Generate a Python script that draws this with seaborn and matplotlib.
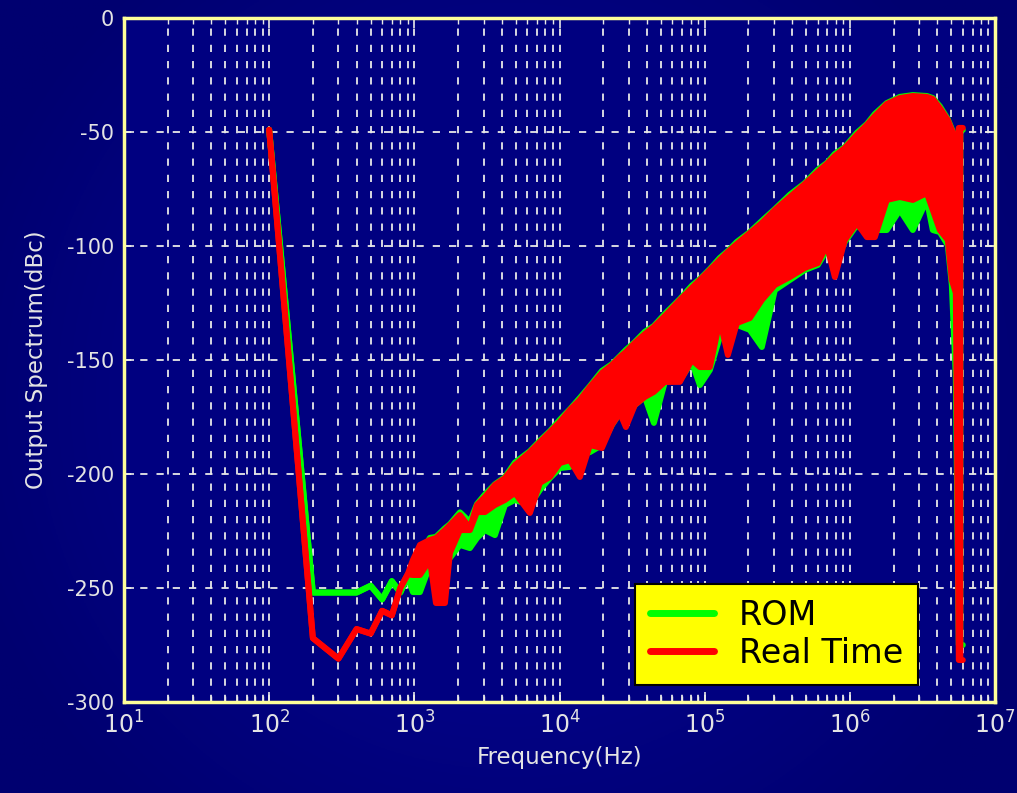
import numpy as np
import pandas as pd
import matplotlib
matplotlib.use("Agg")
import matplotlib.pyplot as plt
import matplotlib.ticker as mticker
from matplotlib.lines import Line2D
import seaborn as sns

# ---------------- data ----------------
freq_hz = [100, 200, 300, 400, 500, 600, 700, 800, 900,
           978, 1093, 1281, 1409, 1625, 1759, 2061, 2415, 2699, 3064, 3591,
           4207, 4929, 6253, 7328, 8589, 10060, 11790, 13820, 16200, 19590,
           22960, 26060, 28660, 33060, 38740, 44680, 53190, 67480, 81620, 92660,
           108600, 127300, 144500, 166700, 204800, 247700, 304500, 386200, 489900, 602000,
           694400, 788300, 923900, 1.117e6, 1.310e6, 1.487e6, 1.798e6, 2.210e6, 2.716e6, 3.391e6,
           3.728e6, 4.167e6, 4.730e6, 5.041e6, 5.370e6, 5.632e6, 6.002e6]

real_time_upper = [-49, -272, -281, -268, -270, -260, -262, -250, -244,
                   -237.7, -231.1, -228.9, -228.1, -224.6, -222.4, -218.0, -223.7, -213.6, -210.1, -204.8,
                   -201.8, -196.1, -190.4, -186.0, -181.6, -177.2, -171.9, -167.5, -161.8, -155.7,
                   -152.2, -148.7, -146.5, -142.5, -138.6, -135.5, -130.7, -123.7, -118.4, -114.9,
                   -110.5, -106.1, -102.6, -99.1, -94.3, -89.9, -84.2, -78.5, -72.8, -67.5,
                   -64.0, -60.5, -57.0, -51.3, -46.9, -43.0, -37.7, -35.1, -34.2, -34.6,
                   -35.5, -39.5, -44.7, -49.1, -57.0, -48.2, -48.2]
real_time_lower = [-49, -272, -281, -268, -270, -260, -262, -250, -244,
                   -244.3, -244.3, -237.7, -256.6, -256.6, -234.6, -224.6, -224.6, -216.7, -216.7, -213.6,
                   -211.4, -208.3, -217.1, -203.9, -201.3, -195.2, -193.9, -201.3, -187.3, -188.6,
                   -178.5, -173.2, -179.4, -169.7, -166.2, -164.0, -159.6, -159.6, -150.0, -153.1,
                   -153.1, -132.5, -147.8, -133.8, -131.6, -123.7, -117.1, -113.6, -109.6, -107.5,
                   -99.6, -113.6, -97.4, -89.9, -96.1, -96.1, -79.8, -78.5, -79.8, -76.8,
                   -84.2, -93.0, -97.4, -114.9, -120.6, -281.6, -281.6]

rom_upper = [-49, -252, -252, -252, -249, -255, -247, -252, -245,
             -239.9, -235.5, -228.0, -227.6, -223.8, -222.0, -216.8, -221.0, -213.2, -209.0, -204.5,
             -201.4, -195.0, -190.0, -185.4, -181.2, -176.2, -171.6, -166.6, -161.4, -154.8,
             -151.8, -148.3, -145.6, -142.1, -137.6, -135.1, -129.8, -123.3, -117.4, -114.5,
             -110.1, -105.2, -102.2, -98.2, -93.9, -89.0, -83.8, -77.5, -72.4, -66.6,
             -63.6, -59.6, -56.6, -50.4, -46.5, -42.1, -37.3, -34.6, -33.8, -34.2,
             -35.1, -38.7, -44.3, -48.7, -56.6, -49.1, -49.1]
rom_lower = [-49, -252, -252, -252, -249, -255, -247, -252, -245,
             -251.8, -251.8, -239.9, -237.7, -235.5, -236.8, -231.1, -232.5, -228.1, -224.6, -226.8,
             -213.6, -211.4, -213.6, -207.0, -201.8, -197.4, -196.9, -191.7, -190.4, -187.3,
             -178.5, -173.2, -176.3, -169.7, -166.2, -177.6, -159.6, -158.8, -150.9, -161.0,
             -154.4, -139.9, -141.2, -134.6, -136.8, -144.3, -119.3, -114.9, -110.5, -108.3,
             -101.8, -107.0, -98.2, -90.8, -94.3, -93.0, -93.0, -84.2, -93.0, -79.8,
             -93.0, -93.9, -99.6, -117.1, -157.0, -275.0, -275.0]

series_names = ["ROM", "Real Time"]
series_colors = ["#00FF00", "#FF0000"]
y_ticks = [0, -50, -100, -150, -200, -250, -300]
x_tick_exponents = [1, 2, 3, 4, 5, 6, 7]

# ---------------- styling ----------------
sns.set_theme(style="white")
plt.rcParams["font.family"] = ["DejaVu Sans"]
plt.rcParams["mathtext.fontset"] = "dejavusans"

text_col = "#E4E4E4"
fig = plt.figure(figsize=(10.17, 7.93), dpi=100)

# gradient backdrop (dark navy, slightly lighter in the centre)
bg = fig.add_axes([0, 0, 1, 1], zorder=-10)
gx = np.linspace(-1, 1, 400)
gy = np.linspace(-1, 1, 300)
GX, GY = np.meshgrid(gx, gy)
r = np.clip(np.sqrt(GX ** 2 * 0.8 + GY ** 2 * 0.5), 0, 1)
c0 = np.array([0x06, 0x06, 0x9C]) / 255.0
c1 = np.array([0x00, 0x00, 0x70]) / 255.0
img = c0[None, None, :] * (1 - r[..., None]) + c1[None, None, :] * r[..., None]
bg.imshow(img, extent=[0, 1, 0, 1], aspect="auto", origin="lower")
bg.set_axis_off()

ax = fig.add_axes([124 / 1017, 1 - 702 / 793, 871 / 1017, 684 / 793])
ax.set_facecolor("#000080")

df = pd.DataFrame({"freq": freq_hz,
                   "rom_up": rom_upper, "rom_lo": rom_lower,
                   "rt_up": real_time_upper, "rt_lo": real_time_lower})

for name, up, lo, col in [(series_names[0], "rom_up", "rom_lo", series_colors[0]),
                          (series_names[1], "rt_up", "rt_lo", series_colors[1])]:
    ax.fill_between(df["freq"], df[lo], df[up], color=col, lw=0, zorder=3)
    sns.lineplot(data=df, x="freq", y=up, ax=ax, color=col, lw=4.3,
                 estimator=None, sort=False, legend=False, zorder=3)
    sns.lineplot(data=df, x="freq", y=lo, ax=ax, color=col, lw=4.3,
                 estimator=None, sort=False, legend=False, zorder=3)

ax.set_xscale("log")
ax.set_xlim(10, 1e7)
ax.set_ylim(-300, 0)
ax.set_xticks([10.0 ** e for e in x_tick_exponents])
ax.set_xticklabels([r"$10^{%d}$" % e for e in x_tick_exponents])
ax.xaxis.set_minor_locator(mticker.LogLocator(base=10, subs=np.arange(2, 10), numticks=20))
ax.xaxis.set_minor_formatter(mticker.NullFormatter())
ax.set_yticks(y_ticks)
ax.set_yticklabels([str(v) for v in y_ticks])

ax.set_axisbelow(True)
grid_kw = dict(color="#E8E8E8", linestyle=(0, (4, 5)), linewidth=1.3)
ax.grid(True, which="both", axis="x", **grid_kw)
ax.grid(True, which="major", axis="y", **grid_kw)

ax.tick_params(axis="both", which="both", direction="in", colors="#E8E8E8",
               top=True, right=True, bottom=True, left=True)
ax.tick_params(axis="both", which="major", length=7, width=1.2, labelsize=15,
               labelcolor=text_col, pad=7)
ax.tick_params(axis="x", which="minor", length=4, width=1.0)
ax.tick_params(axis="x", which="major", labelsize=17)

for s in ax.spines.values():
    s.set_color("#FFFF99")
    s.set_linewidth(2.5)
    s.set_visible(True)

ax.set_xlabel("Frequency(Hz)", color=text_col, fontsize=16.5, labelpad=5)
ax.set_ylabel("Output Spectrum(dBc)", color=text_col, fontsize=16.5, labelpad=14)

handles = [Line2D([], [], color=c, lw=5) for c in series_colors]
leg = ax.legend(handles, series_names, loc="lower right",
                bbox_to_anchor=(0.9116, 0.0249), borderaxespad=0,
                frameon=True, fancybox=False, facecolor="#FFFF00",
                edgecolor="black", framealpha=1, fontsize=24,
                handlelength=1.9, handletextpad=0.75, borderpad=0.45,
                labelspacing=0.15)
leg.get_frame().set_linewidth(1.5)
for t in leg.get_texts():
    t.set_color("black")
leg.set_zorder(10)

fig.savefig("out.png", dpi=100, facecolor=fig.get_facecolor())
